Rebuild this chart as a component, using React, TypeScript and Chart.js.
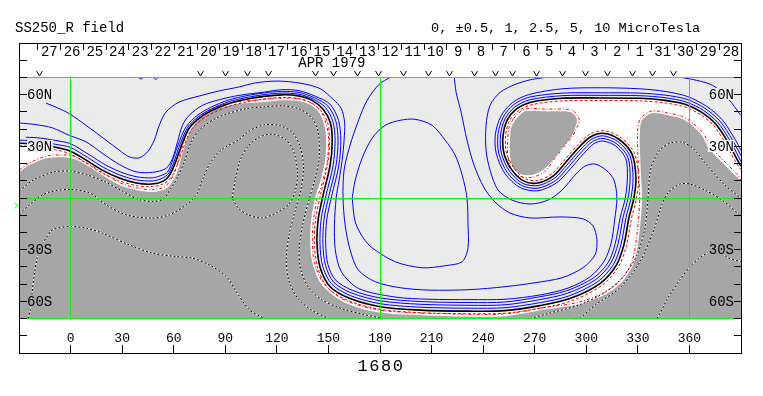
import React, { useEffect, useRef } from "react";
import { Chart, registerables } from "chart.js";

Chart.register(...registerables);

type P = [number, number];

// ---------- axes / annotation data ----------
const lonTicks = [0, 30, 60, 90, 120, 150, 180, 210, 240, 270, 300, 330, 360];
const latTicks = [-80, -70, -60, -50, -40, -30, -20, -10, 0, 10, 20, 30, 40, 50, 60, 70, 80];
const latLabelValues = [60, 30, -30, -60];
const latLabelTexts = ["60N", "30N", "30S", "60S"];
const gridLons = [0, 180, 360];
const gridLats = [70, 0, -70];
const dateTickLons = [-19.0, -5.7, 7.5, 20.7, 33.9, 47.1, 60.3, 73.6, 86.8, 100.0, 113.2, 126.4, 139.6, 152.8, 166.1, 179.3, 192.5, 205.7, 218.9, 232.1, 245.3, 258.5, 271.8, 285.0, 298.2, 311.4, 324.6, 337.8, 351.1, 364.3, 377.5];
const dateLabels = ["27", "26", "25", "24", "23", "22", "21", "20", "19", "18", "17", "16", "15", "14", "13", "12", "11", "10", "9", "8", "7", "6", "5", "4", "3", "2", "1", "31", "30", "29", "28"];
const obsLons = [-18.2, 75.4, 89.9, 102.7, 114.9, 142.3, 152.7, 166.7, 178.9, 193.4, 208.5, 220.2, 234.7, 246.9, 257.3, 271.3, 286.4, 299.8, 312.6, 327.1, 338.7, 351.0];
const monthLabel = "APR 1979";
const monthLabelLon = 152;
const rotationLabel = "1680";
const titleLeft = "SS250_R field";
const titleRight = "0, \u00b10.5, 1, 2.5, 5, 10 MicroTesla";

// ---------- contour data (lon, lat) ----------
const neutralLine: P[] = [[-29.8,31.8],[-17.6,31.2],[-8.9,29.5],[-0.2,27.2],[9.1,22.0],[18.4,16.2],[28.3,11.6],[38.2,8.7],[47.5,8.1],[53.9,9.8],[58.0,13.9],[61.5,22.0],[65.0,31.8],[69.0,40.5],[74.8,46.3],[82.4,50.9],[92.3,54.9],[102.2,57.3],[112.6,59.0],[123.1,59.9],[132.4,59.3],[140.5,56.7],[146.9,51.5],[151.0,44.0],[152.2,33.6],[151.0,19.1],[146.9,1.7],[144.0,-12.7],[143.4,-27.2],[145.2,-40.5],[151.0,-51.5],[162.6,-58.4],[180.0,-63.1],[203.3,-65.1],[232.4,-65.7],[252.7,-65.4],[273.1,-62.5],[290.5,-58.4],[308.0,-49.7],[317.3,-39.3],[321.9,-27.2],[324.8,-11.6],[327.7,0],[328.9,11.6],[326.6,25.5],[319.0,34.1],[309.7,37.6],[302.1,35.3],[295.2,28.9],[287.6,20.2],[280.6,12.7],[271.9,8.7],[263.8,9.8],[256.8,16.2],[252.1,26.0],[251.6,36.4],[253.9,45.1],[259.1,51.5],[267.3,55.5],[285.9,57.9],[308.0,58.1],[331.2,57.9],[345.8,56.7],[357.4,54.4],[367.2,49.7],[375.4,42.8],[382.4,32.4],[387.0,23.7],[389.9,18.5]];

const pos4: P[] = [[-29.8,33.6],[-17.6,33.0],[-8.9,31.2],[-0.2,29.4],[10.0,23.5],[19.3,17.7],[28.8,13.3],[38.4,10.5],[47.5,9.9],[53.2,11.4],[57.2,14.5],[60.6,22.3],[64.1,32.2],[68.2,41.1],[74.2,47.1],[82.0,51.8],[92.1,55.9],[102.1,58.3],[112.6,60.0],[123.1,60.9],[132.6,60.3],[141.1,57.5],[148.3,52.5],[152.6,44.3],[153.9,33.6],[152.7,18.9],[148.6,1.5],[145.7,-12.7],[145.1,-27.0],[146.7,-39.8],[152.0,-50.1],[163.1,-56.8],[180.2,-61.4],[203.3,-63.4],[232.4,-64.0],[252.7,-63.7],[272.8,-60.8],[289.8,-56.9],[306.8,-48.5],[315.8,-38.6],[320.2,-26.9],[323.1,-11.4],[326.0,0],[327.2,11.6],[325.4,24.6],[318.4,32.8],[309.7,36.1],[302.9,34.0],[296.3,27.8],[288.7,19.1],[281.4,11.4],[271.9,7.2],[263.0,8.5],[255.4,15.5],[250.6,26.0],[250.1,36.6],[252.7,45.9],[258.4,52.8],[267.0,57.0],[285.9,59.4],[308.0,59.6],[331.2,59.4],[346.0,58.2],[357.9,55.8],[368.1,50.9],[376.6,43.7],[383.8,33.0],[388.4,24.3],[390,21.0]];

const pos3: P[] = [[-26,35.3],[-17.6,34.8],[-8.9,33.4],[-0.2,31.6],[10.9,25.1],[20.2,19.3],[29.4,15.0],[38.6,12.3],[47.5,11.7],[52.5,13.0],[56.4,15.1],[59.6,22.6],[63.2,32.6],[67.4,41.7],[73.6,47.9],[81.6,52.7],[91.9,56.9],[102.0,59.3],[112.6,61.0],[123.1,61.9],[132.8,61.3],[141.7,58.3],[149.6,53.5],[154.3,44.7],[155.6,33.6],[154.4,18.8],[150.3,1.4],[147.4,-12.7],[146.8,-26.9],[148.3,-39.1],[153.0,-48.8],[163.6,-55.2],[180.3,-59.7],[203.3,-61.7],[232.4,-62.3],[252.7,-62.0],[272.4,-59.1],[289.1,-55.3],[305.6,-47.3],[314.2,-37.9],[318.5,-26.5],[321.4,-11.3],[324.3,0],[325.5,11.6],[324.2,23.7],[317.8,31.4],[309.7,34.6],[303.6,32.7],[297.3,26.8],[289.7,18.1],[282.1,10.1],[271.9,5.7],[262.3,7.3],[254.1,14.7],[249.1,26.0],[248.6,36.7],[251.5,46.6],[257.6,54.1],[266.7,58.5],[285.9,60.9],[308.0,61.1],[331.2,60.9],[346.1,59.7],[358.5,57.3],[369.0,52.1],[377.8,44.6],[385.1,33.6],[390,24.5]];

const pos2: P[] = [[-29.8,43.6],[-20.1,42.6],[-10.5,40.7],[-0.8,36.4],[9.0,32.6],[18.6,25.9],[28.3,19.5],[38.0,15.2],[47.7,14.9],[55.5,17.2],[59.3,22.9],[62.2,32.6],[65.1,42.2],[69.0,48.0],[76.7,53.8],[86.5,57.1],[98.1,59.6],[112.6,61.5],[123.1,62.9],[133.0,62.3],[142.3,59.1],[150.9,54.5],[155.9,45.0],[157.2,33.6],[156.0,18.6],[151.9,1.2],[149.0,-12.7],[148.4,-26.7],[149.7,-38.5],[154.0,-47.5],[164.1,-53.7],[180.5,-58.1],[203.3,-60.1],[232.4,-60.7],[252.7,-60.4],[272.1,-57.5],[288.5,-53.9],[304.5,-46.2],[312.8,-37.3],[316.9,-26.2],[319.8,-11.1],[322.7,0],[323.9,11.6],[323.0,22.8],[317.2,30.1],[309.7,33.1],[304.4,31.5],[298.4,25.7],[290.8,17.0],[282.9,8.9],[271.9,4.2],[261.6,6.0],[252.8,14.0],[247.6,26.0],[247.1,36.9],[250.3,47.4],[256.9,55.3],[266.4,60.0],[285.9,63.4],[308.0,64.0],[331.2,63.4],[346.3,61.8],[359.0,58.9],[369.9,53.3],[379.0,45.5],[386.5,34.2],[390,27.5]];

const pos1: P[] = [[-14.3,55.1],[-7.7,52.4],[-0.8,49.0],[9.0,42.2],[20.6,33.6],[28.3,27.8],[34.1,23.9],[39.9,23.3],[44.8,26.8],[48.7,33.6],[51.6,42.2],[55.5,49.9],[63.2,55.7],[74.8,59.2],[86.5,62.2],[98.1,64.5],[107.4,66.8],[120.2,67.9],[133.5,66.7],[145.2,63.5],[152.7,57.3],[157.4,52.1],[159.4,44.0],[159.1,33.6],[158.0,22.0],[156.2,10.4],[154.5,0],[153.5,-15.6],[154.0,-30.1],[157.5,-42.8],[167.5,-52.5],[188.8,-57.5],[209.1,-58.8],[232.4,-59.0],[252.7,-58.8],[273.1,-56.3],[289.4,-52.3],[302.5,-45.5],[310.5,-36.5],[314.5,-26.0],[316.5,-12.7],[317.8,0],[316.1,10.4],[311.5,16.2],[305.1,19.7],[299.2,18.5],[293.4,13.3],[285.9,4.6],[277.7,-1.2],[267.3,-3.5],[256.8,-1.2],[248.7,4.6],[244.0,16.2],[241.7,27.8],[241.7,42.2],[244.0,53.8],[249.8,61.3],[258.5,65.9],[267.3,68.6],[276.0,70]];

const posCentral: P[] = [[185.9,70],[179.5,66.0],[172.5,56.7],[167.3,44.5],[162.6,30.7],[159.1,16.2],[158.5,0],[159.7,-15.6],[162.6,-30.1],[167.3,-41.7],[177.2,-48.6],[191.7,-52.1],[209.1,-53.5],[232.4,-53.2],[252.7,-51.5],[270.2,-49.2],[285.9,-46.3],[298.1,-40.5],[305.1,-33.0],[306.2,-24.3],[303.9,-16.2],[298.1,-12.1],[284.7,-11.0],[267.3,-11.6],[255.6,-8.7],[247.5,-2.9],[240.6,5.8],[234.7,19.1],[230.6,33.6],[227.2,49.8],[224.3,61.3],[223.2,70]];

const posCore: P[] = [[163.8,0],[165.6,-13.9],[170.2,-23.1],[175.4,-28.9],[188.8,-37.0],[204.5,-40.5],[217.9,-39.3],[227.8,-37.0],[231.2,-28.9],[231.2,-15.6],[230.6,0],[227.8,13.3],[223.7,24.9],[217.9,33.6],[210.3,42.2],[200.4,45.7],[191.7,45.1],[183.0,42.2],[175.4,34.7],[169.6,23.1],[165.6,10.4],[163.8,0]];

const posTopRight: P[] = [[355.6,70],[364.3,68.3],[373.6,65.4],[382.4,57.8],[389.9,48.0]];
const posTopArcA: P[] = [[39.4,70],[40.8,69.1],[42.3,70]];
const posTopArcB: P[] = [[48.1,70],[49.5,68.9],[51.0,70]];

const negHalfInner: P[] = [[-29.8,30.3],[-17.6,29.7],[-8.9,28.0],[-0.6,25.8],[8.3,20.7],[17.6,14.9],[27.9,10.2],[38.1,7.2],[47.5,6.6],[54.5,8.5],[59.2,13.0],[62.9,21.5],[66.4,31.2],[70.2,39.6],[75.7,45.1],[83.0,49.5],[92.6,53.4],[102.4,55.8],[112.6,57.5],[123.1,58.4],[132.1,57.8],[139.6,55.5],[145.7,50.6],[149.5,43.7],[150.7,33.6],[149.5,19.3],[145.4,1.9],[142.5,-12.7],[141.9,-27.4],[143.9,-41.1],[150.1,-52.7],[162.2,-59.8],[179.9,-64.6],[203.3,-66.6],[232.4,-67.2],[252.7,-66.9],[273.4,-64.0],[291.1,-59.8],[309.1,-50.8],[318.7,-39.9],[323.4,-27.5],[326.3,-11.8],[329.2,0],[330.4,11.6],[327.8,26.4],[319.6,35.5],[309.7,39.1],[301.4,36.6],[294.2,29.9],[286.6,21.2],[279.9,14.0],[271.9,10.2],[264.6,11.1],[258.2,17.0],[253.6,26.0],[253.1,36.3],[255.1,44.4],[259.9,50.2],[267.6,54.0],[285.9,56.4],[308.0,56.6],[331.2,56.4],[345.7,55.2],[356.9,53.0],[366.3,48.5],[374.2,41.9],[381.0,31.8],[385.6,23.1],[389.9,16.5]];

const negHalfOuter: P[] = [[-29.8,16.3],[-23.8,20.4],[-14.0,24.4],[-6.6,25.0],[1.3,24.4],[9.7,20.3],[19.0,14.5],[28.7,8.8],[38.3,5.9],[47.5,4.8],[54.6,6.4],[58.0,10.2],[60.8,15.5],[63.7,25.4],[66.8,35.4],[69.9,42.1],[76.0,48.1],[86.2,53.4],[98.0,56.0],[112.6,57.1],[123.1,58.0],[132.0,57.7],[139.6,55.4],[145.0,51.1],[148.1,44.8],[150.0,35.9],[149.4,21.9],[146.5,9.1],[143.5,-0.1],[141.3,-12.7],[140.7,-24.3],[141.7,-36.6],[146.8,-48.9],[157.9,-58.4],[175.6,-64.4],[194.6,-66.4],[220.8,-67.3],[252.7,-67.3],[275.8,-63.5],[294.8,-60.7],[310.2,-55.0],[319.9,-47.7],[326.7,-36.5],[329.9,-17.3],[331.1,0],[330.5,13.3],[329.9,27.8],[329.9,39.5],[331.5,46.1],[338.0,50.5],[347.6,49.3],[355.9,47.3],[362.2,43.3],[368.2,37.2],[372.4,29.6],[379.9,21.7],[387.3,14.2],[390,10.5]];

const negHalfBlob: P[] = [[257.6,46.1],[264.2,51.6],[276.0,51.6],[290.6,51.3],[294.3,48.9],[295.9,45.2],[294.6,41.0],[292.1,36.1],[286.9,29.7],[281.6,22.8],[275.6,15.2],[268.4,12.0],[261.0,12.7],[256.3,16.7],[254.3,24.9],[254.3,33.6],[255.0,41.0],[257.6,46.1]];

const negAreaMain: P[] = [[-29.8,15.0],[-24.0,19.1],[-14.1,23.1],[-6.6,23.7],[1.0,23.1],[9.1,19.1],[18.4,13.3],[28.3,7.5],[38.2,4.6],[47.5,3.5],[55.1,5.2],[59.1,9.3],[62.0,15.0],[64.9,24.9],[67.9,34.7],[70.8,41.1],[76.6,46.9],[86.5,52.1],[98.1,54.7],[112.6,55.8],[123.1,56.7],[131.8,56.4],[138.8,54.4],[144.0,50.3],[146.9,44.5],[148.7,35.9],[148.1,22.0],[145.2,9.3],[142.2,0],[140.0,-12.7],[139.4,-24.3],[140.5,-37.0],[145.8,-49.8],[157.4,-59.6],[175.4,-65.7],[194.6,-67.7],[220.8,-68.6],[252.7,-68.6],[276.0,-64.8],[295.2,-61.9],[310.9,-56.1],[320.9,-48.6],[327.9,-37.0],[331.2,-17.4],[332.4,0],[331.8,13.3],[331.2,27.8],[331.2,39.3],[332.4,45.1],[338.2,49.2],[347.5,48.0],[355.6,46.0],[361.4,42.2],[367.2,36.4],[371.3,28.9],[378.9,20.8],[386.4,13.3],[389.9,9.3]];

const negAreaBlob: P[] = [[258.5,45.1],[264.4,50.3],[276.0,50.3],[290.5,50.0],[293.4,48.0],[294.6,45.1],[293.4,40.5],[291.1,35.3],[285.9,28.9],[280.6,22.0],[274.8,16.2],[268.4,13.3],[261.5,13.9],[257.4,17.4],[255.6,24.9],[255.6,33.6],[256.2,40.5],[258.5,45.1]];

const neg1: P[] = [[-29.8,4.0],[-21.7,10.4],[-10.1,15.0],[-0.2,15.6],[9.7,13.3],[20.2,9.3],[30.1,4.0],[38.8,-0.6],[47.5,-2.0],[53.9,-0.6],[58.5,5.8],[62.6,12.7],[66.1,20.8],[70.2,32.4],[75.4,39.9],[85.9,46.9],[101.6,51.8],[112.6,52.9],[123.7,53.5],[133.5,51.5],[140.5,46.3],[144.0,38.2],[144.6,23.1],[142.0,10.4],[139.0,0],[135.0,-15.6],[133.0,-30.0],[134.0,-42.0],[138.5,-52.0],[146.0,-59.0],[157.0,-64.0],[170.0,-67.5],[181.8,-70]];
const neg2: P[] = [[-29.8,-9.3],[-24.0,-4.0],[-16.5,1.7],[-11.8,3.6],[-0.2,5.0],[11.5,2.7],[20.8,-4.0],[32.4,-9.8],[47.5,-11.7],[57.4,-9.8],[67.3,-4.0],[73.1,1.7],[76.6,10.4],[81.2,20.2],[88.2,28.3],[97.5,33.6],[104,39],[113,42.5],[122,42],[129,38],[133.5,30],[135.5,18],[134,5],[130.5,-8],[127,-22],[125.5,-36],[127,-48],[132,-58],[140,-65],[150,-70]];
const neg3: P[] = [[-24.6,-70],[-23.4,-64.8],[-22.3,-54.4],[-21.1,-44.5],[-19.4,-34.7],[-17.0,-28.3],[-14.1,-23.1],[-10.6,-18.5],[-0.8,-16.6],[9.1,-17.5],[18.4,-20.4],[34.1,-27.2],[47.5,-32.0],[61.5,-34.0],[70.8,-34.9],[80.6,-38.8],[90.5,-45.5],[96.3,-54.2],[103.9,-64.8],[112.0,-69.7]];
const neg4: P[] = [[94.0,0],[95.8,10.4],[98.7,22.0],[103.3,30.1],[109.7,35.3],[117.3,37.0],[124.8,34.1],[129.5,27.8],[132.0,15.0],[130.6,3.5],[126.6,-4.0],[119.6,-8.7],[111.5,-11.6],[103.3,-9.8],[97.5,-5.8],[94.0,0]];
const neg5: P[] = [[267.3,-70],[277.7,-67.1],[296.3,-61.9],[311.5,-54.4],[321.9,-45.1],[329.5,-33.0],[334.1,-17.4],[335.9,0],[337.6,17.4],[342.8,27.8],[348.7,31.8],[355.6,32.4],[362.0,28.9],[370.2,19.1],[380.6,7.5],[389.9,0]];
const neg6: P[] = [[296.3,-70],[305.6,-61.9],[319.6,-52.1],[331.2,-37.0],[339.3,-18.5],[344.0,-4.0],[347.5,2.9],[354.5,8.1],[360.3,8.1],[369.0,4.6],[378.9,-1.2],[389.9,-10.4]];
const neg7: P[] = [[341.1,-70],[344.0,-64.8],[346.9,-59.0],[354.5,-47.4],[360.3,-39.9],[366.1,-34.7],[371.9,-31.2],[377.0,-30.5],[382.4,-34.7],[389.9,-37.0]];

// ---------- colours ----------
const C_POS = "#ebebeb";
const C_NEG = "#a6a6a6";
const C_WEAK = "#ffffff";
const C_BLUE = "#0000ff";
const C_RED = "#ff0000";
const C_GREEN = "#00ff00";
const FONT = '"Liberation Mono", "DejaVu Sans Mono", monospace';

const xy = (d: P[]) => d.map(([x, y]) => ({ x, y }));
const twice = (p: P): P[] => [p, p];

function lineDs(d: P[], color: string, width: number, dash: number[], order: number) {
  return {
    data: xy(d),
    borderColor: color,
    borderWidth: width,
    borderDash: dash,
    fill: false,
    tension: 0.3,
    pointRadius: 0,
    order,
  };
}
function areaDs(d: P[], color: string, order: number, tension = 0.3) {
  return {
    data: xy(d),
    borderColor: "rgba(0,0,0,0)",
    borderWidth: 0,
    backgroundColor: color,
    fill: "shape",
    tension,
    pointRadius: 0,
    order,
  };
}

const framePlugin = {
  id: "framePlugin",
  afterDatasetsDraw(chart: any) {
    const { ctx, chartArea: a, scales } = chart;
    const X = (v: number) => scales.x.getPixelForValue(v);
    const Y = (v: number) => scales.y.getPixelForValue(v);
    const f = (v: number) => Math.floor(v) + 0.5;
    ctx.save();
    ctx.lineWidth = 1;

    ctx.strokeStyle = C_GREEN;
    ctx.beginPath();
    for (const lat of gridLats) {
      ctx.moveTo(a.left, f(Y(lat)));
      ctx.lineTo(a.right, f(Y(lat)));
    }
    for (const lon of gridLons) {
      ctx.moveTo(f(X(lon)), f(Y(70)));
      ctx.lineTo(f(X(lon)), f(Y(-70)));
    }
    ctx.stroke();
    ctx.beginPath();
    ctx.moveTo(14.5, 202.5);
    ctx.lineTo(18, 205.5);
    ctx.lineTo(14.5, 208.5);
    ctx.stroke();

    ctx.font = `14px ${FONT}`;
    ctx.textBaseline = "middle";
    const leftBg = [C_POS, C_POS, C_NEG, C_NEG];
    const rightBg = [C_POS, C_WEAK, C_NEG, C_NEG];
    latLabelValues.forEach((lat, i) => {
      const t = latLabelTexts[i];
      const w = ctx.measureText(t).width;
      const yy = Math.floor(Y(lat));
      ctx.fillStyle = leftBg[i];
      ctx.fillRect(27, yy - 6, w + 1, 12);
      ctx.fillStyle = rightBg[i];
      ctx.fillRect(734 - w - 1, yy - 6, w + 1, 12);
      ctx.fillStyle = "#000";
      ctx.textAlign = "left";
      ctx.fillText(t, 27, yy + 1);
      ctx.textAlign = "right";
      ctx.fillText(t, 734, yy + 1);
    });

    ctx.strokeStyle = "#000";
    ctx.beginPath();
    for (const lat of latTicks) {
      const yy = f(Y(lat));
      ctx.moveTo(a.left, yy);
      ctx.lineTo(a.left + 8, yy);
      ctx.moveTo(a.right - 7, yy);
      ctx.lineTo(a.right, yy);
    }
    for (const lon of lonTicks) {
      const xx = f(X(lon));
      ctx.moveTo(xx, 345);
      ctx.lineTo(xx, a.bottom);
    }
    for (const lon of dateTickLons) {
      const xx = f(X(lon));
      ctx.moveTo(xx, 44);
      ctx.lineTo(xx, 50);
    }
    ctx.stroke();

    ctx.beginPath();
    for (const lon of obsLons) {
      const xx = Math.floor(X(lon)) + 0.5;
      ctx.moveTo(xx - 3, 71);
      ctx.lineTo(xx, 76);
      ctx.lineTo(xx + 3, 71);
    }
    ctx.stroke();

    ctx.strokeRect(a.left + 0.5, a.top + 0.5, a.right - a.left, a.bottom - a.top);

    ctx.fillStyle = "#000";
    ctx.textAlign = "center";
    ctx.textBaseline = "alphabetic";
    ctx.font = `14px ${FONT}`;
    dateLabels.forEach((t, i) => {
      const l0 = dateTickLons[i];
      const l1 = i + 1 < dateTickLons.length ? dateTickLons[i + 1] : l0 + (l0 - dateTickLons[i - 1]);
      ctx.fillText(t, X((l0 + l1) / 2), 56);
    });
    ctx.fillText(monthLabel, X(monthLabelLon), 67);

    ctx.font = `13px ${FONT}`;
    for (const lon of lonTicks) ctx.fillText(String(lon), X(lon), 342);

    ctx.font = `17px ${FONT}`;
    try { (ctx as any).letterSpacing = "1.5px"; } catch (e) {}
    ctx.fillText(rotationLabel, X(180) + 1, 371);
    try { (ctx as any).letterSpacing = "0px"; } catch (e) {}

    ctx.textAlign = "left";
    ctx.font = `14px ${FONT}`;
    ctx.fillText(titleLeft, 15, 32);
    ctx.font = `13.6px ${FONT}`;
    ctx.fillText(titleRight, 431, 32);
    ctx.restore();
  },
};

export default function App() {
  const ref = useRef<HTMLCanvasElement | null>(null);
  useEffect(() => {
    if (!ref.current) return;
    const bgRect: P[] = [[-30, 70], [390, 70], [390, -70], [-30, -70]];
    const weakRegion: P[] = [...neutralLine, ...twice([390, -70]), ...twice([-30, -70])];
    const strongRegion: P[] = [...negAreaMain, ...twice([390, -70]), ...twice([-30, -70])];
    const datasets: any[] = [
      areaDs(bgRect, C_POS, 100, 0),
      areaDs(weakRegion, C_WEAK, 95),
      areaDs(strongRegion, C_NEG, 90),
      areaDs(negAreaBlob, C_NEG, 90),
    ];
    const negLines = [neg1, neg2, neg3, neg4, neg5, neg6, neg7];
    for (const d of negLines) datasets.push(lineDs(d, "#ffffff", 1, [], 71));
    for (const d of negLines) datasets.push(lineDs(d, "#000000", 1, [2, 2], 70));
    datasets.push(lineDs(negHalfOuter, C_RED, 1, [3, 2, 1, 2], 60));
    datasets.push(lineDs(negHalfBlob, C_RED, 1, [3, 2, 1, 2], 60));
    datasets.push(lineDs(negHalfInner, C_RED, 1, [3, 2], 60));
    for (const d of [pos1, pos2, pos3, pos4, posCentral, posCore, posTopRight, posTopArcA, posTopArcB])
      datasets.push(lineDs(d, C_BLUE, 1, [], 50));
    datasets.push(lineDs(neutralLine, "#000000", 1.6, [], 40));

    const chart = new Chart(ref.current, {
      type: "line",
      data: { datasets },
      options: {
        animation: false,
        responsive: false,
        events: [],
        layout: { padding: { left: 19, top: 43, right: 22, bottom: 43 } },
        scales: {
          x: { type: "linear", min: -30, max: 390, display: false },
          y: { type: "linear", min: -90, max: 90, display: false },
        },
        plugins: { legend: { display: false }, tooltip: { enabled: false } },
        elements: { point: { radius: 0 } },
      },
      plugins: [framePlugin],
    } as any);
    return () => chart.destroy();
  }, []);
  return (
    <div style={{ position: "absolute", left: 0, top: 0, width: 763, height: 396, background: "#fff" }}>
      <canvas ref={ref} width={763} height={396} />
    </div>
  );
}
